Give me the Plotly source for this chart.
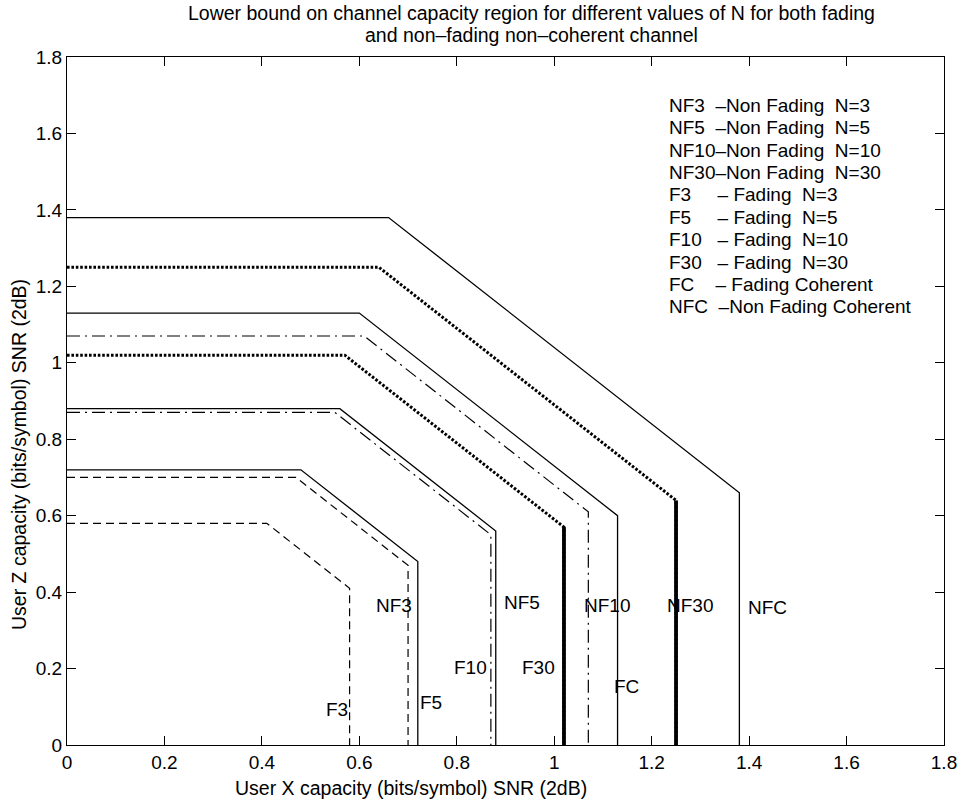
import plotly.graph_objects as go

# ---- data ----
names = ["NF3", "NF5", "NF10", "NF30", "F3", "F5", "F10", "F30", "FC", "NFC"]
# single-user capacity (axis intercept) and corner (knee) rate of each region
cap = [0.70, 0.88, 1.07, 1.25, 0.58, 0.72, 0.87, 1.02, 1.13, 1.38]
knee = [0.47, 0.56, 0.61, 0.64, 0.41, 0.48, 0.55, 0.57, 0.60, 0.66]
groups = ["N3", "N5", "N10", "N30", "N3", "N5", "N10", "N30", "C", "C"]

legend_lines = [
    "NF3  –Non Fading  N=3",
    "NF5  –Non Fading  N=5",
    "NF10–Non Fading  N=10",
    "NF30–Non Fading  N=30",
    "F3     – Fading  N=3",
    "F5     – Fading  N=5",
    "F10   – Fading  N=10",
    "F30   – Fading  N=30",
    "FC    – Fading Coherent",
    "NFC  –Non Fading Coherent",
]

# text-label anchors (data coordinates, like MATLAB text())
label_x = [0.630, 0.893, 1.057, 1.228, 0.528, 0.721, 0.791, 0.930, 1.119, 1.394]
label_y = [0.366, 0.372, 0.366, 0.366, 0.092, 0.110, 0.204, 0.204, 0.152, 0.361]
legend_x = 1.232
legend_top_y = 1.673

tick_vals = [0, 0.2, 0.4, 0.6, 0.8, 1, 1.2, 1.4, 1.6, 1.8]
tick_text = ["0", "0.2", "0.4", "0.6", "0.8", "1", "1.2", "1.4", "1.6", "1.8"]

# ---- styles ----
style = {
    "N3": dict(color="black", width=1.2, dash="8px,5px"),
    "N5": dict(color="black", width=1.3),
    "N10": dict(color="black", width=1.2, dash="13px,5px,2px,5px"),
    "N30": dict(color="black", width=3.0, dash="2.6px,1.8px"),
    "C": dict(color="black", width=1.3),
}

fig = go.Figure()
for n, c, k, g in zip(names, cap, knee, groups):
    xs = [0, k, c, c]
    ys = [c, c, k, 0]
    fig.add_trace(go.Scatter(x=xs, y=ys, mode="lines", line=style[g],
                             name=n, showlegend=False, hoverinfo="skip"))
    if g == "N30":
        # densely sampled vertical part looks like a thick solid line
        fig.add_trace(go.Scatter(x=[c, c], y=[k, 0], mode="lines",
                                 line=dict(color="black", width=3.8),
                                 showlegend=False, hoverinfo="skip"))

FONT = "Liberation Sans, Arial, Helvetica, sans-serif"

anns = []
for n, lx, ly in zip(names, label_x, label_y):
    anns.append(dict(x=lx, y=ly, xref="x", yref="y", text=n, showarrow=False,
                     xanchor="left", yanchor="middle",
                     font=dict(family=FONT, size=19, color="black")))

for i, t in enumerate(legend_lines):
    anns.append(dict(x=legend_x, y=legend_top_y - i * 0.0585, xref="x", yref="y",
                     text=t.replace(" ", "\u00a0"), showarrow=False,
                     xanchor="left", yanchor="middle",
                     font=dict(family=FONT, size=19, color="black")))

W, H = 968, 801
ml, mr, mt, mb = 67, 24, 57, 56
pw, ph = W - ml - mr, H - mt - mb


def px2paper_x(px):
    return (px - ml) / pw


def px2paper_y(py):
    return (H - mb - py) / ph


title_lines = ["Lower bound on channel capacity region for different values of N for both fading",
               "and non–fading non–coherent channel"]
for t, py in zip(title_lines, [13, 35]):
    anns.append(dict(x=px2paper_x(531), y=px2paper_y(py), xref="paper", yref="paper",
                     text=t, showarrow=False, xanchor="center", yanchor="middle",
                     font=dict(family=FONT, size=19.5, color="black")))
anns.append(dict(x=px2paper_x(411), y=px2paper_y(788), xref="paper", yref="paper",
                 text="User X capacity (bits/symbol) SNR (2dB)",
                 showarrow=False, xanchor="center", yanchor="middle",
                 font=dict(family=FONT, size=19.5, color="black")))
anns.append(dict(x=px2paper_x(19), y=px2paper_y(455), xref="paper", yref="paper",
                 text="User Z capacity (bits/symbol) SNR (2dB)", textangle=-90,
                 showarrow=False, xanchor="center", yanchor="middle",
                 font=dict(family=FONT, size=19.5, color="black")))

axis_common = dict(
    showgrid=False, zeroline=False, showline=True, linecolor="black", linewidth=1,
    mirror="ticks", ticks="inside", ticklen=9, tickcolor="black", tickwidth=1,
    tickfont=dict(family=FONT, size=19, color="black"),
    range=[0, 1.8], tickvals=tick_vals, ticktext=tick_text,
)

fig.update_layout(
    width=W, height=H,
    margin=dict(l=ml, r=mr, t=mt, b=mb),
    paper_bgcolor="white", plot_bgcolor="white",
    xaxis=dict(**axis_common),
    yaxis=dict(**axis_common),
    annotations=anns,
    showlegend=False,
)

fig.write_html("out.html", config={"displayModeBar": False},
               post_script="document.body.style.margin='0px';")
